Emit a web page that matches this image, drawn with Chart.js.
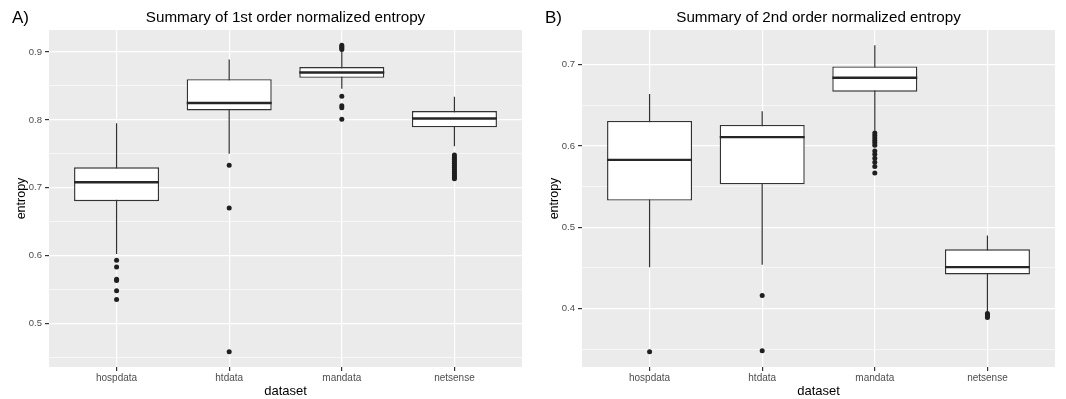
<!DOCTYPE html>
<html>
<head>
<meta charset="utf-8">
<script src="https://cdn.jsdelivr.net/npm/chart.js@4/dist/chart.umd.min.js"></script>
<style>
    body { margin: 0; background: #fff; }
    .panels { display: flex; width: 1066px; height: 399px; }
    canvas { display: block; }
</style>
</head>
<body>
<div class="panels">
    <canvas id="panel-a" width="533" height="399"></canvas>
    <canvas id="panel-b" width="533" height="399"></canvas>
</div>
<script>
// categories
const CATEGORIES = ['hospdata', 'htdata', 'mandata', 'netsense'];

// panel A: 1st order normalized entropy
const A_WHISKER_LO = [0.602, 0.750, 0.846, 0.761];
const A_Q1 = [0.680, 0.814, 0.862, 0.789];
const A_MEDIAN = [0.708, 0.825, 0.870, 0.802];
const A_Q3 = [0.730, 0.860, 0.878, 0.813];
const A_WHISKER_HI = [0.795, 0.889, 0.900, 0.834];
const A_OUTLIERS = [
    [0.593, 0.583, 0.565, 0.563, 0.548, 0.535],
    [0.733, 0.670, 0.458],
    [0.910, 0.908, 0.906, 0.904, 0.835, 0.821, 0.818, 0.801],
    [0.748, 0.745, 0.742, 0.739, 0.736, 0.733, 0.730, 0.727, 0.724, 0.721, 0.718, 0.715, 0.713]
];
const A_MAJOR_TICKS = [0.5, 0.6, 0.7, 0.8, 0.9];
const A_MINOR_TICKS = [0.45, 0.55, 0.65, 0.75, 0.85];

// panel B: 2nd order normalized entropy
const B_WHISKER_LO = [0.451, 0.454, 0.619, 0.395];
const B_Q1 = [0.533, 0.553, 0.667, 0.442];
const B_MEDIAN = [0.583, 0.611, 0.684, 0.451];
const B_Q3 = [0.631, 0.626, 0.698, 0.473];
const B_WHISKER_HI = [0.664, 0.643, 0.724, 0.490];
const B_OUTLIERS = [
    [0.347],
    [0.416, 0.348],
    [0.616, 0.613, 0.610, 0.607, 0.604, 0.601, 0.594, 0.590, 0.585, 0.580, 0.575, 0.567],
    [0.394, 0.392, 0.391, 0.389]
];
const B_MAJOR_TICKS = [0.4, 0.5, 0.6, 0.7];
const B_MINOR_TICKS = [0.35, 0.45, 0.55, 0.65];

const BOX_HALF = 0.377;       // half box width in category units
const LINE_COLOR = '#333333';
const FONT = '"Liberation Sans", Arial, sans-serif';

// ggplot-style grey panel + titles
const panelPlugin = {
    id: 'panelDecor',
    beforeDraw(chart) {
        const { ctx, chartArea } = chart;
        ctx.save();
        ctx.fillStyle = '#ebebeb';
        ctx.fillRect(chartArea.left, chartArea.top, chartArea.right - chartArea.left, chartArea.bottom - chartArea.top);
        ctx.restore();
    },
    afterDraw(chart, args, opts) {
        const { ctx, chartArea } = chart;
        ctx.save();
        ctx.fillStyle = '#000';
        ctx.textBaseline = 'middle';
        ctx.font = `17px ${FONT}`;
        ctx.textAlign = 'left';
        ctx.fillText(opts.tag, 12, 18);
        ctx.font = `15.2px ${FONT}`;
        ctx.textAlign = 'center';
        ctx.fillText(opts.title, (chartArea.left + chartArea.right) / 2, 18);
        ctx.restore();
    }
};

function buildChart(canvasId, tag, title, lo, q1, med, q3, hi, outliers, major, minor) {
    const allValues = lo.concat(hi, outliers.flat());
    const dataMin = Math.min(...allValues);
    const dataMax = Math.max(...allValues);
    const pad = (dataMax - dataMin) * 0.05;
    const yTicks = major.concat(minor).sort((a, b) => a - b);
    const isMajor = v => major.some(m => Math.abs(m - v) < 1e-9);

    const whiskers = CATEGORIES.flatMap((c, i) => [
        { x: i + 1, y: lo[i] }, { x: i + 1, y: hi[i] }, { x: i + 1, y: null }
    ]);
    const medians = CATEGORIES.flatMap((c, i) => [
        { x: i + 1 - BOX_HALF, y: med[i] }, { x: i + 1 + BOX_HALF, y: med[i] }, { x: i + 1, y: null }
    ]);
    const points = CATEGORIES.flatMap((c, i) => outliers[i].map(v => ({ x: i + 1, y: v })));

    return new Chart(document.getElementById(canvasId), {
        type: 'bar',
        data: {
            datasets: [
                {
                    type: 'line',
                    data: whiskers,
                    borderColor: LINE_COLOR,
                    borderWidth: 1.2,
                    pointRadius: 0,
                    spanGaps: false,
                    order: 4
                },
                {
                    type: 'bar',
                    data: CATEGORIES.map((c, i) => ({ x: i + 1, y: [q1[i], q3[i]] })),
                    backgroundColor: '#ffffff',
                    borderColor: LINE_COLOR,
                    borderWidth: 1.4,
                    borderSkipped: false,
                    barPercentage: 0.755,
                    categoryPercentage: 1,
                    order: 3
                },
                {
                    type: 'line',
                    data: medians,
                    borderColor: '#262626',
                    borderWidth: 2.4,
                    pointRadius: 0,
                    spanGaps: false,
                    order: 2
                },
                {
                    type: 'scatter',
                    data: points,
                    backgroundColor: '#1f1f1f',
                    borderWidth: 0,
                    pointRadius: 2.5,
                    order: 1
                }
            ]
        },
        options: {
            responsive: false,
            animation: false,
            devicePixelRatio: 1,
            layout: { padding: { top: 30, right: 11, left: 0, bottom: 0 } },
            plugins: {
                legend: { display: false },
                tooltip: { enabled: false },
                panelDecor: { tag: tag, title: title }
            },
            scales: {
                x: {
                    type: 'linear',
                    min: 0.4,
                    max: 4.6,
                    offset: false,
                    afterBuildTicks: axis => { axis.ticks = CATEGORIES.map((c, i) => ({ value: i + 1 })); },
                    afterFit: axis => { axis.height = 32; },
                    border: { display: false },
                    grid: { offset: false, color: '#ffffff', lineWidth: 1.2, tickColor: LINE_COLOR, tickLength: 4 },
                    ticks: {
                        autoSkip: false,
                        maxRotation: 0,
                        padding: 1,
                        color: '#4d4d4d',
                        font: { family: FONT, size: 10 },
                        callback: v => CATEGORIES[v - 1]
                    },
                    title: {
                        display: true,
                        text: 'dataset',
                        color: '#000',
                        font: { family: FONT, size: 13 },
                        padding: { top: 0, bottom: 0 }
                    }
                },
                y: {
                    type: 'linear',
                    min: dataMin - pad,
                    max: dataMax + pad,
                    afterBuildTicks: axis => { axis.ticks = yTicks.map(v => ({ value: v })); },
                    afterFit: axis => { axis.width = 49; },
                    border: { display: false },
                    grid: {
                        color: '#ffffff',
                        lineWidth: c => isMajor(c.tick.value) ? 1.2 : 0.6,
                        tickColor: c => isMajor(c.tick.value) ? LINE_COLOR : 'rgba(0,0,0,0)',
                        tickLength: 4
                    },
                    ticks: {
                        autoSkip: false,
                        padding: 3,
                        color: '#4d4d4d',
                        font: { family: FONT, size: 9.5 },
                        callback: v => isMajor(v) ? v.toFixed(1) : ''
                    },
                    title: {
                        display: true,
                        text: 'entropy',
                        color: '#000',
                        font: { family: FONT, size: 12.5 },
                        padding: { top: 14, bottom: 0 }
                    }
                }
            }
        },
        plugins: [panelPlugin]
    });
}

buildChart('panel-a', 'A)', 'Summary of 1st order normalized entropy',
    A_WHISKER_LO, A_Q1, A_MEDIAN, A_Q3, A_WHISKER_HI, A_OUTLIERS, A_MAJOR_TICKS, A_MINOR_TICKS);
buildChart('panel-b', 'B)', 'Summary of 2nd order normalized entropy',
    B_WHISKER_LO, B_Q1, B_MEDIAN, B_Q3, B_WHISKER_HI, B_OUTLIERS, B_MAJOR_TICKS, B_MINOR_TICKS);
</script>
</body>
</html>
